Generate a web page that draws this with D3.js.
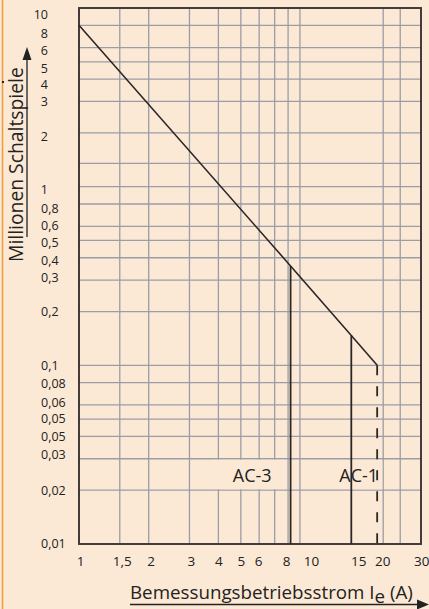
<!DOCTYPE html>
<html><head><meta charset="utf-8">
<script src="https://cdn.jsdelivr.net/npm/d3@7"></script>
<style>
html,body{margin:0;padding:0;background:#FCE9D5;}
svg{display:block;font-family:"Open Sans",sans-serif;}
</style></head><body>
<svg id="c" width="429" height="609"></svg>
<script>
// ---- data ----
const yTickValues = [10, 8, 6, 5, 4, 3, 2, 1, 0.8, 0.6, 0.5, 0.4, 0.3, 0.2, 0.1, 0.08, 0.06, 0.05, 0.04, 0.03, 0.02, 0.01];
const yTickLabels = ["10","8","6","5","4","3","2","1","0,8","0,6","0,5","0,4","0,3","0,2","0,1","0,08","0,06","0,05","0,05","0,03","0,02","0,01"];
const yGridValues = [8, 6, 5, 4, 3, 2, 1.35, 1, 0.8, 0.6, 0.5, 0.4, 0.3, 0.2, 0.1, 0.08, 0.06, 0.05, 0.04, 0.03, 0.02];
const xTickValues = [1, 1.5, 2, 3, 4, 5, 6, 8, 10, 15, 20, 30];
const xTickLabels = ["1","1,5","2","3","4","5","6","8","10","15","20","30"];
const xGridValues = [1.5, 2, 3, 4, 5, 6, 7, 8, 9, 20.6, 24.4];
const curveCurrent = [1, 8.2, 15, 19.4];          // Ie (A)
const curveOperations = [8, 0.36, 0.147, 0.1];    // Mio. Schaltspiele
const categories = ["AC-3", "AC-1"];
const xTitle = ["Bemessungsbetriebsstrom I", "e", " (A)"];
const yTitle = "Millionen Schaltspiele";

// ---- setup ----
const W = 429, H = 609;
const bg = "#FCE9D5", gridCol = "#9A9DA5", ink = "#2B2727", borderCol = "#3A3434";
const svg = d3.select("#c");
const x = d3.scaleLog().domain([1, 30]).range([79, 421]);
const y = d3.scaleLog().domain([0.01, 10]).range([544, 8]);

svg.append("rect").attr("width", W).attr("height", H).attr("fill", bg);

// grid
const grid = svg.append("g").attr("stroke", gridCol).attr("stroke-width", 1.3);
grid.selectAll(".gy").data(yGridValues).join("line")
  .attr("x1", x(1)).attr("x2", x(30)).attr("y1", d => y(d)).attr("y2", d => y(d));
grid.selectAll(".gx").data(xGridValues).join("line")
  .attr("y1", y(10)).attr("y2", y(0.01)).attr("x1", d => x(d)).attr("x2", d => x(d));

// knockouts behind category labels
const ko = svg.append("g").attr("fill", bg);
ko.append("rect").attr("x", x(4) - 4).attr("width", x(8) - 2 - (x(4) - 4))
  .attr("y", y(0.03) + 1).attr("height", y(0.02) - y(0.03) - 2);
ko.append("rect").attr("x", x(15) + 1).attr("width", x(20.6) - 1 - (x(15) + 1))
  .attr("y", y(0.03) + 1).attr("height", y(0.02) - y(0.03) - 2);

// frame
svg.append("rect").attr("x", x(1)).attr("y", y(10))
  .attr("width", x(30) - x(1)).attr("height", y(0.01) - y(10))
  .attr("fill", "none").attr("stroke", borderCol).attr("stroke-width", 1.9);

// curve
const pts = curveCurrent.map((c, i) => [c, curveOperations[i]]);
svg.append("path").datum(pts)
  .attr("d", d3.line().x(d => x(d[0])).y(d => y(d[1])))
  .attr("fill", "none").attr("stroke", ink).attr("stroke-width", 1.6);

// drop lines
svg.append("g").selectAll("line").data(pts.slice(1)).join("line")
  .attr("x1", d => x(d[0])).attr("x2", d => x(d[0]))
  .attr("y1", d => y(d[1])).attr("y2", y(0.01))
  .attr("stroke", ink).attr("stroke-width", 1.8)
  .attr("stroke-dasharray", (d, i) => i === 2 ? "10,11" : null);

// category labels
svg.append("text").attr("x", x(curveCurrent[1]) - 19).attr("y", 482)
  .attr("text-anchor", "end").attr("font-size", 18).attr("fill", "#222").text(categories[0]);
svg.append("text").attr("x", x(curveCurrent[3]) + 1).attr("y", 482)
  .attr("text-anchor", "end").attr("font-size", 18).attr("fill", "#222").text(categories[1]);

// y axis labels (small layout nudges as in the printed original)
const yNudge = new Map([[10, 6.5], [8, 7.5], [6, 2.5], [5, 6], [4, 5.4], [3, 0], [2, 3], [1, 2],
  [0.8, 4], [0.6, -1], [0.5, 1.7], [0.4, 2], [0.3, -3], [0.06, -3], [0.05, -1], [0.03, -4.5], [0.01, -1]]);
const yLab = new Map(yTickValues.map((v, i) => [v, yTickLabels[i]]));
const yAx = svg.append("g").attr("transform", "translate(48,0)")
  .call(d3.axisLeft(y).tickValues(yTickValues).tickFormat(d => yLab.get(d)).tickSize(0).tickPadding(0));
yAx.select(".domain").remove();
yAx.selectAll("text")
  .attr("font-family", "Open Sans, sans-serif").attr("font-size", 12.5).attr("fill", "#222")
  .attr("text-anchor", d => d >= 1 ? "end" : "start")
  .attr("x", d => d >= 1 ? 0 : -7)
  .attr("dy", "0.35em")
  .attr("y", d => yNudge.get(d) || 0);

// x axis labels
const xNudge = new Map([[1, 1], [1.5, 2], [2, 2], [3, 1.5], [4, 0], [5, 0], [6, -1], [8, -2], [10, 0.5], [15, 7], [20, 2]]);
const xLab = new Map(xTickValues.map((v, i) => [v, xTickLabels[i]]));
const xAx = svg.append("g").attr("transform", "translate(0,566)")
  .call(d3.axisBottom(x).tickValues(xTickValues).tickFormat(d => xLab.get(d)).tickSize(0).tickPadding(0));
xAx.select(".domain").remove();
xAx.selectAll("text")
  .attr("font-family", "Open Sans, sans-serif").attr("font-size", 13.5).attr("fill", "#222")
  .attr("dy", 0).attr("y", 0)
  .attr("text-anchor", d => d === 30 ? "end" : "middle")
  .attr("x", d => d === 30 ? 429 - x(30) : (xNudge.get(d) || 0));

// x title
const xt = svg.append("text").attr("x", 130).attr("y", 599).attr("font-size", 19).attr("fill", "#222");
xt.append("tspan").text(xTitle[0]);
xt.append("tspan").attr("dy", 4).text(xTitle[1]);
xt.append("tspan").attr("dy", -4).text(xTitle[2]);
{
  const w = xt.node().getBBox().width;
  xt.attr("font-size", 19 * 283 / w);
}
// y title
const yt = svg.append("text").attr("transform", "translate(23,262) rotate(-90)")
  .attr("font-size", 19).attr("fill", "#222").text(yTitle);
{
  const w = yt.node().getComputedTextLength();
  yt.attr("font-size", 19 * 195 / w);
}

// arrows
svg.append("line").attr("x1", 27).attr("x2", 27).attr("y1", 237).attr("y2", 56)
  .attr("stroke", "#222").attr("stroke-width", 1.3);
svg.append("path").attr("d", "M27,47L22.5,60L31.5,60Z").attr("fill", "#222");
svg.append("line").attr("x1", 130).attr("x2", 420).attr("y1", 604.5).attr("y2", 604.5)
  .attr("stroke", "#222").attr("stroke-width", 1.3);
svg.append("path").attr("d", "M429,604.5L417,599.5L417,609.5Z").attr("fill", "#222");

// left orange rule
svg.append("line").attr("x1", 2.5).attr("x2", 2.5).attr("y1", 0).attr("y2", H)
  .attr("stroke", "#EE9B3E").attr("stroke-width", 1.5);
svg.append("rect").attr("x", 2).attr("y", 81).attr("width", 2).attr("height", 2).attr("fill", "#222");
</script>
</body></html>
